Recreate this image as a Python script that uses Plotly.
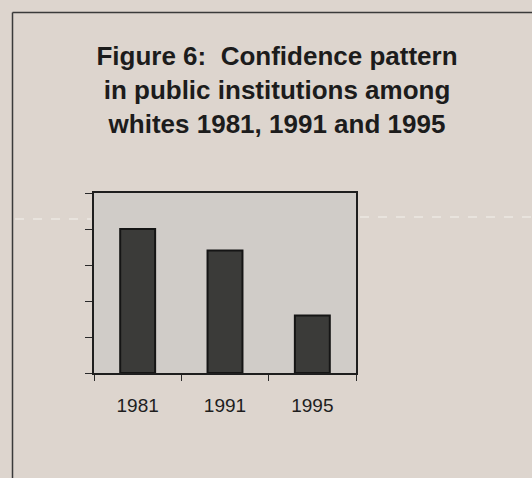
import plotly.graph_objects as go

years = ["1981", "1991", "1995"]
confidence = [4.0, 3.4, 1.6]
y_ticks = [0, 1, 2, 3, 4, 5]

W, H = 532, 478
L, R, T, B = 94, 356, 193, 373  # plot area in pixels

def px(x):
    return (x - L) / (R - L)

def py(y):
    return (B - y) / (B - T)

fig = go.Figure(go.Bar(
    x=years, y=confidence, width=0.4,
    marker=dict(color="#3b3b39", line=dict(color="#151515", width=2)),
))

shapes = [
    # outer frame (left + top, right/bottom cropped)
    dict(type="line", xref="paper", yref="paper", x0=px(12.5), x1=px(12.5), y0=py(12.5), y1=py(490),
         line=dict(color="#3a3a3a", width=1.5)),
    dict(type="line", xref="paper", yref="paper", x0=px(12.5), x1=px(540), y0=py(12.5), y1=py(12.5),
         line=dict(color="#3a3a3a", width=1.5)),
    # faint scan streak
    dict(type="line", xref="paper", yref="paper", x0=px(15), x1=px(91), y0=py(219), y1=py(219),
         line=dict(color="#ece7e2", width=1.5, dash="dash")),
    dict(type="line", xref="paper", yref="paper", x0=px(360), x1=px(532), y0=py(217), y1=py(217),
         line=dict(color="#ece7e2", width=1.5, dash="dash")),
]

fig.update_layout(
    width=W, height=H,
    margin=dict(l=L, r=W - R, t=T, b=H - B, pad=0),
    paper_bgcolor="#ddd5ce",
    plot_bgcolor="#d0ccc8",
    showlegend=False,
    bargap=0.6,
    font=dict(family="Liberation Sans, Arial, sans-serif", color="#1e1e1e"),
    title=dict(
        text="Figure 6:\u00a0 Confidence pattern<br>in public institutions among<br>whites 1981, 1991 and 1995",
        font=dict(size=26, family="Liberation Sans, Arial, sans-serif", color="#1c1c1c", weight="bold"),
        xref="container", yref="container", x=277 / W, xanchor="center",
        y=1 - 65 / H, yanchor="top",
    ),
    shapes=shapes,
    xaxis=dict(
        type="category", tickson="boundaries", ticks="outside", ticklen=6,
        tickcolor="#2a2a2a", tickwidth=1, showgrid=False,
        showline=True, mirror=True, linecolor="#1e1e1e", linewidth=2,
        tickfont=dict(size=19, color="#1e1e1e"), ticklabelstandoff=14,
        range=[-0.5, 2.5],
    ),
    yaxis=dict(
        range=[0, 5], tickvals=y_ticks, showticklabels=False,
        ticks="outside", ticklen=7, tickcolor="#2a2a2a", tickwidth=1,
        showgrid=False, zeroline=False,
        showline=True, mirror=True, linecolor="#1e1e1e", linewidth=2,
    ),
)

fig.write_html("out.html")
